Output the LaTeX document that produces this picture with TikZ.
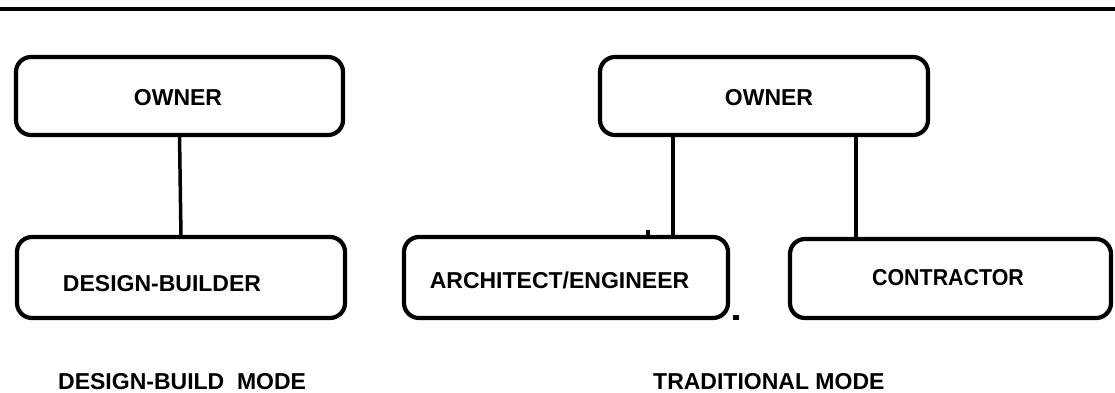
\documentclass[tikz,border=0pt]{standalone}
\usepackage{fontspec}
\setmainfont{Liberation Sans}
\usetikzlibrary{calc}
\begin{document}
\begin{tikzpicture}[x=1pt,y=-1pt,
  font=\fontsize{23}{27}\selectfont\bfseries,
  box/.style={draw, line width=4.2pt, rounded corners=15pt, inner sep=0pt, outer sep=0pt},
  link/.style={line width=3.5pt},
  caption/.style={anchor=base west, inner sep=0pt}]
\useasboundingbox (0,0) rectangle (1115,393);

% heading rule
\draw[line width=4pt] (0,9) -- (1115,9);

% design-build mode
\node[box, minimum width=327pt, minimum height=78pt,
      label={[xshift=-1.5pt, yshift=-2pt]center:OWNER}] (own1) at (179.5,96) {};
\node[box, minimum width=328pt, minimum height=81pt,
      label={[xshift=-19pt, yshift=-6.5pt]center:DESIGN-BUILDER}] (db) at (181,277.5) {};
\draw[link] (own1.south) -- (db.north);

% traditional mode
\node[box, minimum width=328pt, minimum height=78pt,
      label={[xshift=5pt, yshift=-2pt]center:OWNER}] (own2) at (764,96) {};
\node[box, minimum width=324pt, minimum height=81pt,
      label={[xshift=-6.5pt, yshift=-2.5pt]center:ARCHITECT/ENGINEER}] (ae) at (566,277.5) {};
\node[box, minimum width=321pt, minimum height=79pt,
      label={[xshift=-2.5pt, yshift=1pt]center:\scalebox{0.93}[1]{CONTRACTOR}}] (con) at (950.5,278.5) {};
\draw[link] ([xshift=-91pt]own2.south) -- ([xshift=-91pt]own2.south |- ae.north);
\draw[link] ([xshift=92pt]own2.south) -- ([xshift=92pt]own2.south |- con.north);

% small specks
\fill (646,230) rectangle (650,236);
\fill (733,315) rectangle (739,320);

% mode captions
\node[caption] (capdb) at (58,389) {DESIGN-BUILD\ \ MODE};
\node[caption] (captr) at (653,389) {TRADITIONAL MODE};
\end{tikzpicture}
\end{document}
